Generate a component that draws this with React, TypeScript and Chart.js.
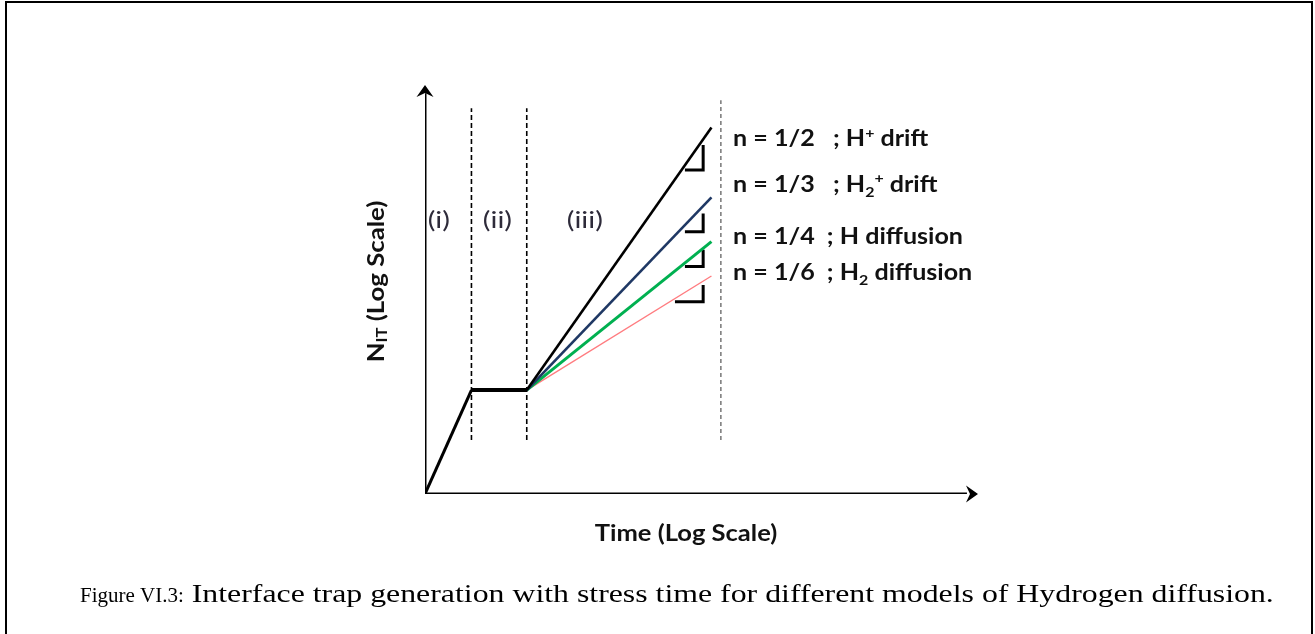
import React, { useEffect, useRef } from "react";
import { Chart, registerables } from "chart.js";

Chart.register(...registerables);

// ---- data (abstract log-log units, 0..100 on each axis) ----
const rampX = [0, 8.4];
const rampY = [0, 25.4];
const plateauX = [8.4, 18.4];
const plateauY = [25.4, 25.4];
const powerStartX = 18.4;
const powerStartY = 25.4;
const powerEndX = 51.8;
const exponentNames = ["n = 1/2", "n = 1/3", "n = 1/4", "n = 1/6"];
const powerEndY = [89.6, 72.5, 61.7, 53.3];
const regionBoundaryX = [8.4, 18.4, 53.5];
const regionBoundaryTopY = [94.3, 94.3, 96.3];
const regionBoundaryBottomY = [13.2, 13.2, 13.2];
const regionLabels = ["(i)", "(ii)", "(iii)"];
const regionLabelX = [2.5, 13.1, 28.9];
const regionLabelY = [67, 67, 67];
const bracketX = 50.3;
const bracketLeftX = [47.0, 47.0, 47.0, 45.2];
const bracketTopY = [85.3, 68.6, 59.7, 51.1];
const bracketBottomY = [79.2, 64.1, 55.6, 47.0];
const labelX = 55.7;
const labelBaselineY = [85.0, 73.9, 61.1, 52.3];
// rich-text pieces of the mechanism labels: [text, kind]
const mechanismLabels: [string, string][][] = [
  [["n = 1/2   ; H", "n"], ["+", "sup"], [" drift", "n"]],
  [["n = 1/3   ; H", "n"], ["2", "sub"], ["+", "sup"], [" drift", "n"]],
  [["n = 1/4  ; H diffusion", "n"]],
  [["n = 1/6  ; H", "n"], ["2", "sub"], [" diffusion", "n"]],
];
const xAxisTitle: [string, string][] = [["Time (Log Scale)", "n"]];
const yAxisTitle: [string, string][] = [["N", "n"], ["IT", "sub"], [" (Log Scale)", "n"]];
const captionLead = "Figure VI.3:";
const captionBody = " Interface trap generation with stress time for different models of Hydrogen diffusion.";

// ---- styles ----
const seriesColors = ["#000000", "#1f3864", "#00b050", "#ff7c80"];
const seriesWidths = [2.6, 2.6, 3, 1.4];
const boundaryColors = ["#000000", "#000000", "#7f7f7f"];
const LABEL_FONT = "Lato, 'Open Sans', sans-serif";
const SERIF = "'Liberation Serif', 'Times New Roman', serif";

function drawRich(
  ctx: CanvasRenderingContext2D,
  segs: [string, string][],
  x: number,
  y: number,
  size: number,
  weight: string,
  align: "left" | "center",
  stretch: number
) {
  const fontFor = (k: string) =>
    `${weight} ${k === "n" ? size : Math.round(size * 0.65)}px ${LABEL_FONT}`;
  let total = 0;
  for (const [t, k] of segs) {
    ctx.font = fontFor(k);
    total += ctx.measureText(t).width;
  }
  ctx.save();
  ctx.translate(x, y);
  ctx.scale(stretch, 1);
  let cx = align === "center" ? -total / 2 : 0;
  ctx.textAlign = "left";
  for (const [t, k] of segs) {
    ctx.font = fontFor(k);
    const dy = k === "sub" ? size * 0.22 : k === "sup" ? -size * 0.38 : 0;
    ctx.fillText(t, cx, dy);
    cx += ctx.measureText(t).width;
  }
  ctx.restore();
}

const decor = {
  id: "decor",
  beforeDraw(chart: any) {
    const ctx = chart.ctx as CanvasRenderingContext2D;
    ctx.save();
    ctx.fillStyle = "#ffffff";
    ctx.fillRect(0, 0, chart.width, chart.height);
    ctx.restore();
  },
  afterDatasetsDraw(chart: any) {
    const ctx = chart.ctx as CanvasRenderingContext2D;
    const xs = chart.scales.x;
    const ys = chart.scales.y;
    const area = chart.chartArea;
    ctx.save();
    ctx.fillStyle = "#000";
    // arrow heads
    const ox = xs.getPixelForValue(0);
    const oy = ys.getPixelForValue(0);
    const tipY = ys.getPixelForValue(100);
    const tipX = xs.getPixelForValue(100);
    ctx.beginPath();
    ctx.moveTo(ox, tipY);
    ctx.lineTo(ox - 8.5, tipY + 12);
    ctx.lineTo(ox, tipY + 8);
    ctx.lineTo(ox + 8.5, tipY + 12);
    ctx.closePath();
    ctx.fill();
    ctx.beginPath();
    ctx.moveTo(tipX, oy);
    ctx.lineTo(tipX - 12, oy - 8.5);
    ctx.lineTo(tipX - 8, oy);
    ctx.lineTo(tipX - 12, oy + 8.5);
    ctx.closePath();
    ctx.fill();

    // region labels
    ctx.fillStyle = "#2e2b3a";
    ctx.textBaseline = "middle";
    regionLabels.forEach((t, i) => {
      drawRich(ctx, [[t, "n"]], xs.getPixelForValue(regionLabelX[i]), ys.getPixelForValue(regionLabelY[i]), 24, "400", "center", 1.2);
    });

    // mechanism labels
    ctx.fillStyle = "#111";
    ctx.textBaseline = "alphabetic";
    mechanismLabels.forEach((segs, i) => {
      drawRich(ctx, segs, xs.getPixelForValue(labelX), ys.getPixelForValue(labelBaselineY[i]), 22, "700", "left", 1.14);
    });

    // axis titles
    ctx.fillStyle = "#111";
    ctx.textBaseline = "alphabetic";
    drawRich(ctx, xAxisTitle, area.left + 261, area.bottom + 47, 23, "700", "center", 1.11);

    ctx.save();
    ctx.translate(area.left - 48, (area.top + area.bottom) / 2 - 8);
    ctx.rotate(-Math.PI / 2);
    ctx.textBaseline = "middle";
    drawRich(ctx, yAxisTitle, 0, 0, 23, "700", "center", 1.12);
    ctx.restore();

    // caption
    ctx.fillStyle = "#000";
    ctx.textAlign = "left";
    ctx.textBaseline = "alphabetic";
    ctx.font = `400 21px ${SERIF}`;
    ctx.fillText(captionLead, 80, 602);
    const lw = ctx.measureText(captionLead).width;
    ctx.font = `400 26px ${SERIF}`;
    const bw = ctx.measureText(captionBody).width;
    ctx.save();
    ctx.translate(80 + lw, 602);
    ctx.scale(1090 / bw, 1);
    ctx.fillText(captionBody, 0, 0);
    ctx.restore();

    // frame
    ctx.strokeStyle = "#000";
    ctx.lineWidth = 2;
    ctx.beginPath();
    ctx.moveTo(6, chart.height + 5);
    ctx.lineTo(6, 2);
    ctx.lineTo(1312, 2);
    ctx.lineTo(1312, chart.height + 5);
    ctx.stroke();
    ctx.restore();
  },
};

function seg(x1: number, y1: number, x2: number, y2: number) {
  return [
    { x: x1, y: y1 },
    { x: x2, y: y2 },
  ];
}

export default function App() {
  const ref = useRef<HTMLCanvasElement>(null);
  useEffect(() => {
    const canvas = ref.current!;
    const datasets: any[] = [];
    const base = { showLine: true, pointRadius: 0, fill: false, tension: 0 };
    // axes
    datasets.push({ ...base, label: "x-axis", data: seg(0, 0, 98, 0), borderColor: "#000", borderWidth: 3 });
    datasets.push({ ...base, label: "y-axis", data: seg(0, 0, 0, 98), borderColor: "#000", borderWidth: 3 });
    // region boundaries
    regionBoundaryX.forEach((x, i) => {
      datasets.push({
        ...base,
        label: "boundary " + (i + 1),
        data: seg(x, regionBoundaryBottomY[i], x, regionBoundaryTopY[i]),
        borderColor: boundaryColors[i],
        borderWidth: 1.6,
        borderDash: i === 2 ? [4, 3] : [5, 3],
      });
    });
    // ramp & plateau
    datasets.push({
      ...base,
      label: "ramp",
      data: rampX.map((x, i) => ({ x, y: rampY[i] })),
      borderColor: "#000",
      borderWidth: 3,
    });
    datasets.push({
      ...base,
      label: "plateau",
      data: plateauX.map((x, i) => ({ x, y: plateauY[i] })),
      borderColor: "#000",
      borderWidth: 4,
    });
    // power-law regimes
    exponentNames.forEach((name, i) => {
      datasets.push({
        ...base,
        label: name,
        data: seg(powerStartX, powerStartY, powerEndX, powerEndY[i]),
        borderColor: seriesColors[i],
        borderWidth: seriesWidths[i],
      });
    });
    // slope brackets
    exponentNames.forEach((name, i) => {
      datasets.push({
        ...base,
        label: name + " slope",
        data: [
          { x: bracketLeftX[i], y: bracketBottomY[i] },
          { x: bracketX, y: bracketBottomY[i] },
          { x: bracketX, y: bracketTopY[i] },
        ],
        borderColor: "#000",
        borderWidth: 3,
        borderJoinStyle: "miter",
      });
    });

    const chart = new Chart(canvas, {
      type: "scatter",
      data: { datasets },
      options: {
        responsive: false,
        animation: false,
        devicePixelRatio: 1,
        layout: { padding: { left: 425, right: 337, top: 85, bottom: 140 } },
        plugins: { legend: { display: false }, tooltip: { enabled: false }, title: { display: false } },
        scales: {
          x: { type: "linear", min: 0, max: 100, display: false },
          y: { type: "linear", min: 0, max: 100, display: false },
        },
      },
      plugins: [decor],
    });
    return () => chart.destroy();
  }, []);
  return (
    <div style={{ position: "fixed", left: 0, top: 0, width: 1315, height: 634, background: "#fff" }}>
      <canvas ref={ref} width={1315} height={634} style={{ display: "block" }} />
    </div>
  );
}
